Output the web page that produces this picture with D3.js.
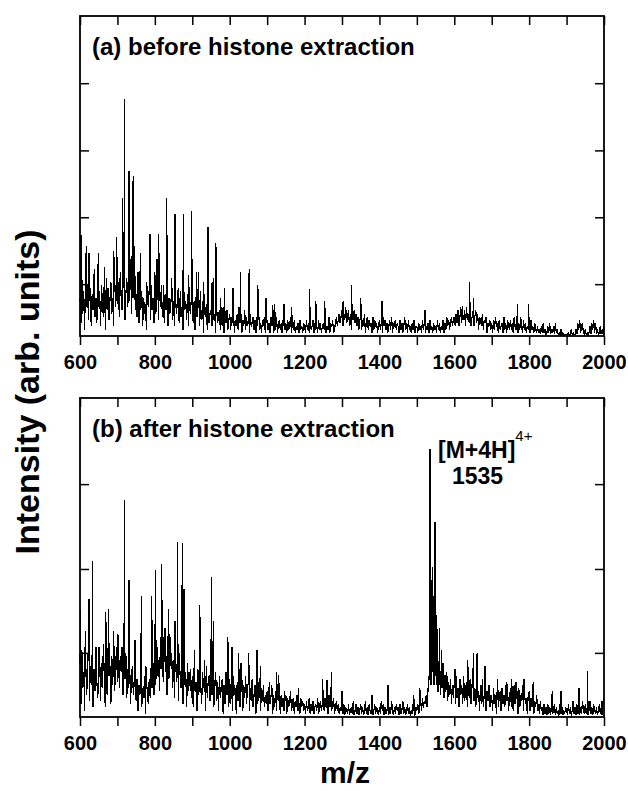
<!DOCTYPE html>
<html>
<head>
<meta charset="utf-8">
<script src="https://cdn.jsdelivr.net/npm/d3@7"></script>
<style>
  body { margin: 0; background: #fff; }
  svg { display: block; font-family: "Liberation Sans", Arial, sans-serif; }
</style>
</head>
<body>
<div id="chart"></div>
<script>
// m/z grid for the noise floor: 600, 602.5, ... 2000 (one row = 50 m/z)
var mzStart = 600, mzStep = 2.5;

// panel (a) noise floor, % of panel height
var aNoise = [
  12, 4, 18, 7, 14, 2, 22, 9, 16, 5, 11, 15, 3, 13, 8, 19, 6, 12, 4, 17,
  9, 14, 3, 16, 10, 6, 18, 2, 13, 8, 15, 5, 11, 17, 7, 12, 3, 19, 9, 14,
  10, 17, 6, 20, 12, 8, 15, 19, 5, 13, 18, 9, 16, 11, 21, 7, 17, 12, 19, 8,
  13, 6, 15, 4, 11, 8, 14, 3, 12, 7, 10, 2, 13, 9, 15, 5, 16, 8, 12, 4,
  15, 7, 12, 17, 5, 14, 9, 16, 6, 11, 4, 13, 8, 15, 3, 12, 7, 10, 14, 5,
  11, 3, 13, 7, 10, 15, 4, 12, 6, 9, 2, 14, 8, 11, 5, 13, 3, 10, 7, 12,
  9, 4, 11, 2, 10, 6, 8, 12, 3, 9, 5, 11, 1, 8, 6, 10, 2, 9, 4, 7,
  8, 3, 10, 5, 7, 1, 9, 4, 6, 8, 2, 7, 3, 9, 1, 6, 4, 8, 2, 5,
  7, 2, 6, 4, 8, 1, 5, 3, 7, 2, 9, 4, 6, 1, 5, 3, 8, 2, 6, 3,
  5, 1, 7, 3, 4, 6, 2, 5, 1, 6, 3, 7, 2, 4, 1, 5, 3, 6, 1, 4,
  5, 2, 4, 1, 6, 3, 5, 1, 4, 2, 6, 1, 3, 5, 2, 4, 1, 5, 3, 2,
  4, 1, 5, 2, 3, 6, 1, 4, 2, 5, 1, 3, 2, 4, 1, 5, 2, 3, 1, 4,
  3, 1, 5, 2, 4, 1, 6, 2, 3, 5, 1, 4, 2, 3, 1, 5, 2, 4, 1, 3,
  4, 2, 5, 1, 3, 2, 6, 1, 4, 3, 5, 1, 2, 4, 6, 3, 5, 7, 4, 6,
  8, 3, 7, 5, 9, 4, 6, 8, 3, 7, 2, 6, 5, 8, 4, 7, 3, 6, 2, 5,
  6, 2, 5, 3, 7, 1, 4, 6, 2, 5, 3, 4, 1, 6, 2, 5, 3, 4, 1, 3,
  5, 2, 4, 1, 6, 3, 5, 2, 4, 1, 3, 5, 2, 6, 1, 4, 3, 5, 2, 4,
  3, 1, 5, 2, 4, 1, 3, 6, 2, 4, 1, 5, 2, 3, 1, 4, 2, 5, 1, 3,
  3, 1, 4, 2, 3, 1, 5, 2, 4, 1, 3, 2, 4, 1, 5, 2, 3, 1, 4, 2,
  3, 1, 5, 2, 4, 1, 3, 2, 5, 1, 4, 2, 6, 3, 5, 2, 4, 6, 3, 5,
  6, 3, 7, 4, 8, 3, 6, 9, 4, 7, 5, 8, 3, 9, 5, 7, 4, 8, 3, 6,
  7, 3, 6, 8, 4, 7, 2, 6, 5, 3, 7, 2, 5, 4, 6, 1, 4, 3, 5, 2,
  4, 1, 5, 2, 6, 3, 4, 1, 5, 2, 3, 4, 1, 6, 2, 4, 1, 5, 3, 2,
  5, 2, 4, 1, 6, 3, 2, 5, 1, 4, 2, 6, 3, 1, 5, 2, 4, 1, 3, 2,
  4, 1, 5, 2, 3, 1, 4, 2, 1, 3, 1, 2, 0.5, 3, 1, 4, 1, 2, 0.5, 1,
  3, 1, 4, 0.5, 2, 1, 3, 0.5, 4, 1, 2, 0.5, 1, 0.3, 2, 0.5, 1, 0.3, 0.5, 0.3,
  0.3, 0.5, 1, 0.3, 0.5, 2, 0.5, 1, 0.3, 0.5, 2, 0.5, 4, 2, 5, 1, 3, 4, 1, 0.5,
  2, 0.5, 1, 0.3, 1, 3, 0.5, 4, 2, 5, 1, 4, 0.5, 2, 0.3, 1, 3, 0.5, 2, 0.5,
  3
];

// panel (a) resolved peaks [m/z, %]
var aPeaks = [
  [603, 31.5], [617, 28], [624, 26], [639, 21], [649, 26], [666, 21.5], [670, 18],
  [690, 26.5], [698, 31], [703, 15], [714, 43], [719, 74], [731, 51.5], [737, 25],
  [742, 50], [746, 28], [755, 20], [761, 26], [778, 17], [787, 32], [800, 20],
  [806, 24], [810, 32], [823, 16], [832, 43], [845, 18], [854, 38], [868, 14],
  [876, 38], [890, 19], [898, 39], [911, 20], [916, 20], [922, 14], [930, 17],
  [942, 34], [953, 17], [957, 18], [963, 29], [975, 12], [986, 15], [1009, 15],
  [1029, 20], [1052, 21], [1075, 16], [1097, 12], [1115, 9.6], [1120, 10],
  [1145, 10], [1165, 9], [1213, 14.7], [1230, 11], [1254, 11], [1303, 11],
  [1325, 16], [1350, 12], [1407, 11], [1522, 8], [1622, 9.5], [1640, 16.8],
  [1652, 12], [1769, 10], [1798, 10]
];

// panel (b) noise floor, % of panel height
var bNoise = [
  17, 4, 21, 9, 14, 2, 19, 7, 12, 24, 5, 16, 10, 20, 3, 15, 8, 22, 11, 6,
  14, 20, 5, 17, 9, 23, 12, 3, 18, 7, 21, 13, 16, 4, 19, 10, 24, 8, 15, 22,
  11, 25, 9, 19, 14, 22, 7, 17, 12, 20, 6, 15, 9, 18, 4, 13, 16, 7, 11, 14,
  5, 12, 2, 10, 7, 14, 3, 9, 6, 13, 1, 11, 8, 4, 12, 6, 15, 9, 17, 7,
  20, 10, 24, 13, 18, 8, 25, 15, 21, 11, 27, 14, 19, 7, 23, 12, 26, 16, 20, 9,
  18, 6, 22, 11, 17, 5, 20, 13, 9, 16, 4, 19, 10, 14, 3, 17, 8, 12, 15, 6,
  13, 3, 16, 8, 11, 2, 15, 7, 18, 10, 4, 14, 9, 12, 2, 16, 6, 11, 13, 5,
  15, 7, 12, 3, 10, 14, 5, 11, 2, 13, 6, 9, 12, 1, 10, 4, 14, 7, 8, 3,
  12, 4, 10, 2, 13, 7, 9, 1, 11, 5, 14, 3, 8, 12, 2, 10, 6, 13, 4, 9,
  11, 2, 9, 5, 12, 3, 7, 10, 1, 8, 4, 11, 6, 2, 9, 5, 10, 3, 7, 4,
  8, 2, 9, 4, 6, 10, 1, 7, 3, 8, 2, 6, 5, 9, 1, 7, 3, 6, 2, 5,
  7, 1, 6, 3, 5, 8, 2, 4, 6, 1, 5, 3, 7, 2, 4, 1, 6, 3, 5, 2,
  4, 1, 5, 2, 3, 6, 1, 4, 2, 5, 1, 3, 4, 2, 6, 1, 3, 5, 2, 4,
  5, 2, 6, 3, 4, 1, 7, 3, 5, 2, 4, 6, 1, 3, 5, 2, 4, 1, 3, 2,
  3, 1, 4, 0.5, 3, 2, 1, 4, 0.5, 2, 3, 1, 5, 0.5, 2, 4, 1, 3, 0.5, 2,
  4, 1, 3, 0.5, 2, 5, 1, 3, 0.5, 4, 2, 1, 3, 0.5, 2, 4, 1, 3, 2, 0.5,
  3, 1, 5, 2, 4, 0.5, 3, 1, 2, 4, 0.5, 3, 1, 5, 2, 0.5, 3, 1, 4, 2,
  3, 0.5, 4, 1, 2, 5, 1, 3, 0.5, 2, 4, 1, 3, 0.5, 2, 1, 4, 2, 0.5, 3,
  2, 4, 1, 3, 5, 2, 6, 3, 5, 4, 7, 3, 9, 12, 20, 10, 28, 14, 33, 12,
  26, 10, 18, 8, 20, 7, 15, 9, 17, 6, 13, 8, 14, 5, 11, 7, 12, 4, 10, 6,
  11, 4, 13, 6, 9, 3, 12, 7, 10, 4, 13, 5, 8, 11, 3, 9, 6, 12, 4, 10,
  13, 5, 9, 3, 11, 6, 8, 2, 10, 4, 12, 3, 7, 9, 2, 8, 5, 10, 3, 7,
  6, 2, 9, 4, 7, 1, 10, 3, 6, 8, 2, 9, 4, 7, 3, 10, 5, 8, 2, 6,
  9, 3, 7, 2, 10, 4, 6, 8, 1, 9, 3, 7, 5, 10, 2, 8, 4, 6, 1, 7,
  8, 2, 6, 3, 9, 1, 5, 3, 7, 2, 4, 1, 5, 2, 3, 0.5, 4, 1, 3, 0.5,
  4, 1, 3, 0.5, 5, 1, 2, 4, 0.5, 3, 1, 2, 0.5, 4, 1, 3, 0.5, 2, 1, 3,
  2, 0.5, 4, 1, 3, 0.5, 2, 5, 1, 3, 0.5, 4, 1, 2, 0.5, 3, 1, 5, 2, 1,
  4, 1, 3, 0.5, 2, 5, 1, 3, 0.5, 4, 2, 1, 3, 0.5, 2, 4, 1, 3, 0.5, 5,
  6
];

// panel (b) resolved peaks [m/z, %]
var bPeaks = [
  [602, 33.5], [614, 27], [624, 37], [633, 49], [642, 21], [651, 22], [669, 33],
  [677, 34], [690, 27], [701, 26], [719, 68], [731, 43], [747, 24], [764, 38],
  [776, 16], [792, 38], [802, 46], [818, 48], [827, 28], [837, 34], [854, 30],
  [860, 55], [873, 54.6], [878, 40], [905, 21], [920, 35], [933, 18], [951, 44],
  [956, 30], [995, 25], [1006, 22], [1023, 20], [1030, 17], [1051, 20],
  [1073, 21], [1082, 16], [1107, 11], [1125, 14], [1130, 13], [1147, 8],
  [1183, 9], [1248, 12], [1260, 11.5], [1272, 14], [1300, 8], [1380, 7],
  [1423, 10], [1492, 7], [1508, 9], [1535, 84], [1537, 40], [1539, 12],
  [1541, 47], [1543, 15], [1544, 38], [1546, 10], [1548.5, 61], [1551, 14],
  [1553, 32], [1556, 8], [1560, 28], [1566, 21], [1602, 15], [1636, 18],
  [1651, 20], [1661, 20], [1682, 16], [1716, 12], [1740, 11], [1753, 12],
  [1765, 11], [1786, 12], [1811, 11], [1862, 8], [1885, 8], [1933, 9],
  [1956, 14.5], [1994, 5]
];

var xTicks = d3.range(600, 2001, 100);
var aTicks = [16.2, 37.1, 58.0, 79.0];
var bTicks = [20.1, 46.4, 73.0];

var W = 628, H = 791;
var svg = d3.select('#chart').append('svg').attr('width', W).attr('height', H);

var x = d3.scaleLinear().domain([600, 2000]).range([80, 604]);

function spectrum(noise, peaks) {
  var pts = noise.map(function(v, i) { return [mzStart + i * mzStep, v]; });
  pts = pts.concat(peaks);
  pts.sort(function(a, b) { return a[0] - b[0]; });
  return pts;
}

function panel(noise, peaks, yTicks, top, bottom, title) {
  var y = d3.scaleLinear().domain([0, 100]).range([bottom, top]);
  var g = svg.append('g');

  var line = d3.line()
    .x(function(d) { return x(d[0]); })
    .y(function(d) { return y(d[1]); });

  g.append('path')
    .datum(spectrum(noise, peaks))
    .attr('d', line)
    .attr('fill', 'none')
    .attr('stroke', '#000')
    .attr('stroke-width', 1.2)
    .attr('shape-rendering', 'crispEdges');

  var bot = g.append('g').attr('transform', 'translate(0,' + bottom + ')')
    .call(d3.axisBottom(x).tickValues(xTicks).tickSize(9).tickPadding(10)
      .tickFormat(function(d) { return d % 200 === 0 ? d : ''; }));
  var topAx = g.append('g').attr('transform', 'translate(0,' + top + ')')
    .call(d3.axisTop(x).tickValues(xTicks).tickSize(-9).tickFormat(''));
  var left = g.append('g').attr('transform', 'translate(80,0)')
    .call(d3.axisLeft(y).tickValues(yTicks).tickSize(-9).tickFormat(''));
  var right = g.append('g').attr('transform', 'translate(604,0)')
    .call(d3.axisRight(y).tickValues(yTicks).tickSize(-9).tickFormat(''));

  [bot, topAx, left, right].forEach(function(a) {
    a.select('.domain').remove();
    a.selectAll('.tick line').attr('stroke', '#000').attr('stroke-width', 1.5);
  });
  bot.selectAll('.tick text')
    .attr('fill', '#000')
    .style('font-size', '20px')
    .style('font-weight', 'bold')
    .style('font-family', '"Liberation Sans", Arial, sans-serif');

  g.append('rect')
    .attr('x', 80).attr('y', top)
    .attr('width', 524).attr('height', bottom - top)
    .attr('fill', 'none').attr('stroke', '#000').attr('stroke-width', 1.8);

  g.append('text')
    .attr('x', 92).attr('y', top + 39)
    .style('font-size', '24px').style('font-weight', 'bold')
    .text(title);

  return y;
}

panel(aNoise, aPeaks, aTicks, 16, 336, '(a) before histone extraction');
panel(bNoise, bPeaks, bTicks, 398, 717, '(b) after histone extraction');

// peak annotation
var ann = svg.append('text').attr('x', 438).attr('y', 458)
  .style('font-size', '23px').style('font-weight', 'bold');
ann.append('tspan').text('[M+4H]');
ann.append('tspan').attr('dy', -17).style('font-size', '15px').style('font-weight', 'normal').text('4+');
svg.append('text').attr('x', 452).attr('y', 484)
  .style('font-size', '23px').style('font-weight', 'bold').text('1535');

// axis titles
svg.append('text')
  .attr('transform', 'translate(39,392) rotate(-90)')
  .attr('text-anchor', 'middle')
  .style('font-size', '34px').style('font-weight', 'bold')
  .text('Intensity (arb. units)');

svg.append('text')
  .attr('x', 345).attr('y', 783)
  .attr('text-anchor', 'middle')
  .style('font-size', '30px').style('font-weight', 'bold')
  .text('m/z');
</script>
</body>
</html>
